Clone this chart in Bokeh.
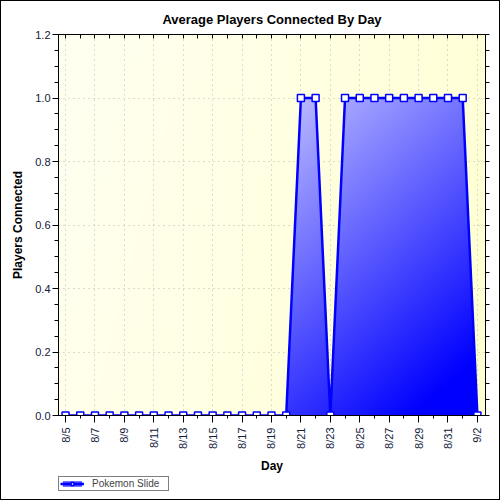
import numpy as np
from bokeh.plotting import figure
from bokeh.layouts import column
from bokeh.models import (Range1d, FixedTicker, LinearAxis, Grid,
                          PrintfTickFormatter, Legend, LegendItem, Title)
from bokeh.embed import file_html
from bokeh.resources import INLINE

# Daily averages
days = ["8/5", "8/6", "8/7", "8/8", "8/9", "8/10", "8/11", "8/12", "8/13", "8/14",
        "8/15", "8/16", "8/17", "8/18", "8/19", "8/20", "8/21", "8/22", "8/23", "8/24",
        "8/25", "8/26", "8/27", "8/28", "8/29", "8/30", "8/31", "9/1", "9/2"]
players = [0, 0, 0, 0, 0, 0, 0, 0, 0, 0,
           0, 0, 0, 0, 0, 0, 1, 1, 0, 1,
           1, 1, 1, 1, 1, 1, 1, 1, 0]
y_ticks = [0.0, 0.2, 0.4, 0.6, 0.8, 1.0, 1.2]
series_name = "Pokemon Slide"
title_text = "Average Players Connected By Day"
x_title = "Day"
y_title = "Players Connected"

FONT = "Liberation Sans"
BLUE = "#0000ff"
AREA_SWATCH = "#5050ff"

x = np.arange(len(days))
X0, X1 = -0.48, len(days) - 1 + 0.55
Y0, Y1 = y_ticks[0], y_ticks[-1]
y_minor = [round(float(t), 2) for t in np.arange(Y0, Y1 + 1e-9, 0.05)]

p = figure(width=498, height=474, x_range=Range1d(X0, X1), y_range=Range1d(Y0, Y1),
           output_backend="svg", toolbar_location=None,
           x_axis_type=None, y_axis_type=None,
           min_border_left=57, min_border_right=14, min_border_top=33, min_border_bottom=60,
           background_fill_color="#ffffe6", border_fill_color="white",
           outline_line_color="black", outline_line_width=1)

p.title = Title(text=title_text, align="center", offset=-21, standoff=15,
                text_font=FONT, text_font_size="13px", text_font_style="bold",
                text_color="black")

# raster size of the plot frame
W, H = 427, 381
u = (np.arange(W) + 0.5) / W                  # 0 at left, 1 at right
v = (np.arange(H) + 0.5) / H                  # 0 at bottom, 1 at top
xs = X0 + u * (X1 - X0)
ys = Y0 + v * (Y1 - Y0)
U, V = np.meshgrid(u, 1.0 - v)                 # V: 0 at top


def pack(r, g, b, a):
    img = np.empty((H, W), dtype=np.uint32)
    view = img.view(dtype=np.uint8).reshape((H, W, 4))
    view[..., 0] = r
    view[..., 1] = g
    view[..., 2] = b
    view[..., 3] = a
    return img


# pale yellow backdrop gradient
bg_b = np.clip(242 - 26 * U - 6 * V, 0, 255).astype(np.uint8)
p.image_rgba(image=[pack(255, 255, bg_b, 255)], x=X0, y=Y0, dw=X1 - X0, dh=Y1 - Y0,
             level="image")

# area under the series, shaded light-to-dark blue
curve = np.interp(xs, x, players)
inside = (ys[:, None] <= curve[None, :]) & (xs[None, :] >= x[0]) & (xs[None, :] <= x[-1])
w = np.clip(1.21 - 0.67 * U - 0.65 * V, 0, 1)
rg = (255 * w).astype(np.uint8)
alpha = np.where(inside, 255, 0).astype(np.uint8)

p.varea(x=x, y1=np.zeros(len(x)), y2=players, fill_color=AREA_SWATCH)
p.image_rgba(image=[pack(rg, rg, 255, alpha)], x=X0, y=Y0, dw=X1 - X0, dh=Y1 - Y0)

p.line(x, players, line_color=BLUE, line_width=2.5)
p.scatter(x, players, marker="square", size=7, fill_color="white",
          line_color=BLUE, line_width=1.5)

# axes
even = list(range(0, len(days), 2))
bottom = LinearAxis(ticker=FixedTicker(ticks=even, minor_ticks=list(range(len(days)))),
                    major_label_overrides={int(i): days[i] for i in even},
                    major_label_orientation=np.pi / 2,
                    axis_label=x_title)
left = LinearAxis(ticker=FixedTicker(ticks=y_ticks, minor_ticks=y_minor),
                  formatter=PrintfTickFormatter(format="%.1f"),
                  axis_label=y_title)
for ax in (bottom, left):
    ax.axis_line_color = "black"
    ax.major_tick_line_color = "black"
    ax.minor_tick_line_color = "black"
    ax.major_tick_in = 0
    ax.minor_tick_in = 0
    ax.major_label_text_font = FONT
    ax.major_label_text_font_size = "11px"
    ax.major_label_text_color = "#10203a"
    ax.axis_label_text_font = FONT
    ax.axis_label_text_font_size = "12px"
    ax.axis_label_text_font_style = "bold"
    ax.axis_label_text_color = "black"
bottom.major_tick_out = 7
bottom.minor_tick_out = 3
bottom.major_label_standoff = 5
bottom.axis_label_standoff = 7
left.major_tick_out = 6
left.minor_tick_out = 4
left.major_label_standoff = 2
left.axis_label_standoff = 7
p.add_layout(bottom, "below")
p.add_layout(left, "left")

# mirrored tick marks along the top and right edges of the frame
top = LinearAxis(ticker=FixedTicker(ticks=list(range(len(days)))),
                 major_tick_in=4, major_tick_out=0, minor_tick_line_color=None,
                 major_label_text_font_size="1px", major_label_text_color=None,
                 axis_line_color="black")
right = LinearAxis(ticker=FixedTicker(ticks=y_minor),
                   major_tick_in=0, major_tick_out=4, minor_tick_line_color=None,
                   major_label_text_font_size="1px", major_label_text_color=None,
                   axis_line_color="black")
p.add_layout(top, "above")
p.add_layout(right, "right")

# dotted grid at the labelled ticks
for dim, tk in ((0, bottom.ticker), (1, left.ticker)):
    p.add_layout(Grid(dimension=dim, ticker=tk, grid_line_color="#b8b8b8",
                      grid_line_dash="1 4", grid_line_width=1))

# legend strip below the chart; its series renderers sit outside the visible range
pl = figure(width=498, height=24, x_range=Range1d(-10, -9), y_range=Range1d(-10, -9),
            output_backend="svg", toolbar_location=None,
            x_axis_type=None, y_axis_type=None,
            min_border=0, outline_line_color=None,
            background_fill_color="white", border_fill_color="white")
k_area = pl.varea(x=x, y1=np.zeros(len(x)), y2=players, fill_color=AREA_SWATCH)
k_line = pl.line(x, players, line_color=BLUE, line_width=2.5)
k_pts = pl.scatter(x, players, marker="square", size=7, fill_color="white",
                   line_color=BLUE, line_width=1.5)
legend = Legend(items=[LegendItem(label=series_name, renderers=[k_area, k_line, k_pts])],
                location=(0, 8), orientation="horizontal",
                border_line_color="black", border_line_width=1,
                background_fill_color="white", background_fill_alpha=1,
                label_text_font=FONT, label_text_font_size="10px",
                label_height=9, label_width=75, glyph_height=7, glyph_width=24,
                label_standoff=8, padding=1, margin=0, spacing=0)
pl.add_layout(legend)

layout = column(p, pl, spacing=0, styles={"border": "1px solid black"})
open("out.html", "w").write(file_html(layout, INLINE))
